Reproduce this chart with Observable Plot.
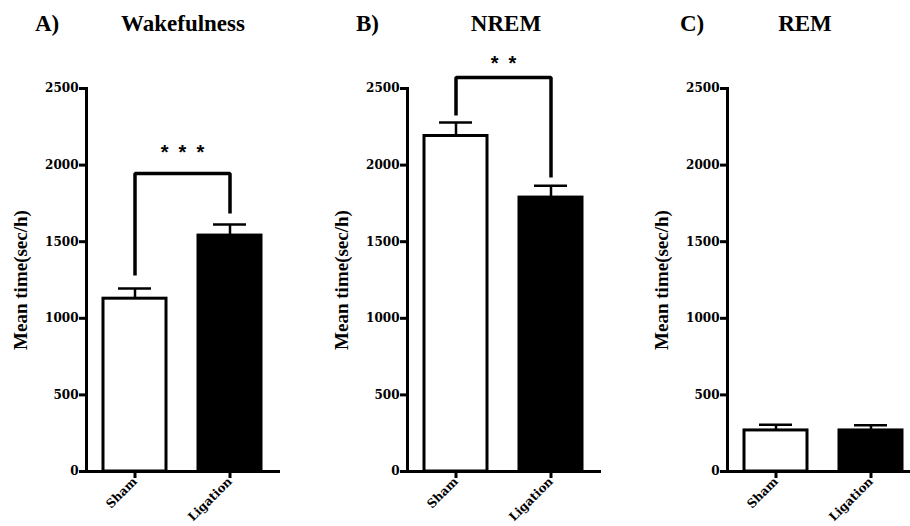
<!DOCTYPE html>
<html>
<head>
<meta charset="utf-8">
<script src="https://cdn.jsdelivr.net/npm/d3@7"></script>
<script src="https://cdn.jsdelivr.net/npm/@observablehq/plot@0.6"></script>
<style>
  html, body { margin: 0; padding: 0; background: #fff; }
  body { width: 910px; height: 526px; overflow: hidden; position: relative; font-family: "Liberation Serif", serif; }
  .panel { position: absolute; top: 45px; width: 300px; }
  .panel svg { max-width: none !important; }
  .ttl { position: absolute; top: 10px; font-weight: bold; font-size: 23px; line-height: 28px; color: #000; white-space: nowrap; }
</style>
</head>
<body>
<script>
// ---- data ----
const groups = ["Sham", "Ligation"];
const letters = ["A)", "B)", "C)"];
const titles = ["Wakefulness", "NREM", "REM"];
const wakeMean = [1128, 1540];
const wakeHi = [1194, 1612];
const nremMean = [2190, 1788];
const nremHi = [2278, 1866];
const remMean = [268, 268];
const remHi = [305, 302];
const sigLabels = ["* * *", "* *", ""];
const bracketTop = [1945, 2572, null];
const bracketLegs = [[1280, 1684], [2324, 1919], null];
const starsY = [2082, 2663, null];
const yTicks = [0, 500, 1000, 1500, 2000, 2500];
const yLabel = "Mean time(sec/h)";

const means = [wakeMean, nremMean, remMean];
const his = [wakeHi, nremHi, remHi];

// layout
const panelLeft = [0, 321, 641];
const titleLetterX = [35, 356, 680];
const titleCenterX = [183, 506, 805];

function panel(k) {
  const data = groups.map((g, i) => ({group: g, value: means[k][i], hi: his[k][i]}));
  const marks = [
    Plot.barY(data, {x: "group", y: "value", fill: "group", stroke: "black", strokeWidth: 3}),
    Plot.ruleX(data, {x: "group", y1: "value", y2: "hi", stroke: "black", strokeWidth: 2.5}),
    Plot.tickY(data, {x: "group", y: "hi", stroke: "black", strokeWidth: 2.5, insetLeft: 15, insetRight: 15}),
    Plot.frame({anchor: "left", stroke: "black", strokeWidth: 3}),
    Plot.frame({anchor: "bottom", stroke: "black", strokeWidth: 3}),
    Plot.axisY({ticks: yTicks, tickSize: 7, tickPadding: 1, tickFormat: d => String(d), fontSize: 12, fontFamily: "DejaVu Serif", fontWeight: "bold", strokeWidth: 3, label: null}),
    Plot.axisX({tickSize: 7, tickPadding: 1, tickRotate: -45, fontSize: 12, fontFamily: "DejaVu Serif", fontWeight: "bold", strokeWidth: 3, label: null}),
    Plot.text([yLabel], {text: d => d, frameAnchor: "left", dx: -66, rotate: -90, textAnchor: "middle", lineAnchor: "middle", fontSize: 19, fontWeight: "bold", fill: "black"})
  ];
  if (bracketTop[k] != null) {
    const br = [
      {x: groups[0], y: bracketLegs[k][0]},
      {x: groups[0], y: bracketTop[k]},
      {x: groups[1], y: bracketTop[k]},
      {x: groups[1], y: bracketLegs[k][1]}
    ];
    marks.push(Plot.line(br, {x: "x", y: "y", stroke: "black", strokeWidth: 3.5, strokeLinejoin: "miter", strokeLinecap: "butt"}));
    marks.push(Plot.text([sigLabels[k]], {text: d => d.replace(/ /g, "\u2002"), y: () => starsY[k], frameAnchor: "middle", fontSize: 20, fontWeight: "bold", fontFamily: "Liberation Sans", fill: "black"}));
  }
  return Plot.plot({
    width: 300,
    height: 481,
    marginLeft: 86,
    marginRight: 22,
    marginTop: 43,
    marginBottom: 55,
    x: {domain: groups, paddingInner: 0.34, paddingOuter: 0.18, label: null},
    y: {domain: [0, 2500], label: null},
    color: {domain: groups, range: ["white", "black"]},
    style: {fontFamily: "Liberation Serif", fontWeight: "bold", fontSize: "14px", color: "black", background: "transparent", overflow: "visible"},
    marks
  });
}

for (let k = 0; k < 3; k++) {
  const div = document.createElement("div");
  div.className = "panel";
  div.style.left = panelLeft[k] + "px";
  div.appendChild(panel(k));
  document.body.appendChild(div);

  const l = document.createElement("div");
  l.className = "ttl";
  l.style.left = titleLetterX[k] + "px";
  l.textContent = letters[k];
  document.body.appendChild(l);

  const t = document.createElement("div");
  t.className = "ttl";
  t.style.left = titleCenterX[k] + "px";
  t.style.transform = "translateX(-50%)";
  t.textContent = titles[k];
  document.body.appendChild(t);
}
</script>
</body>
</html>
